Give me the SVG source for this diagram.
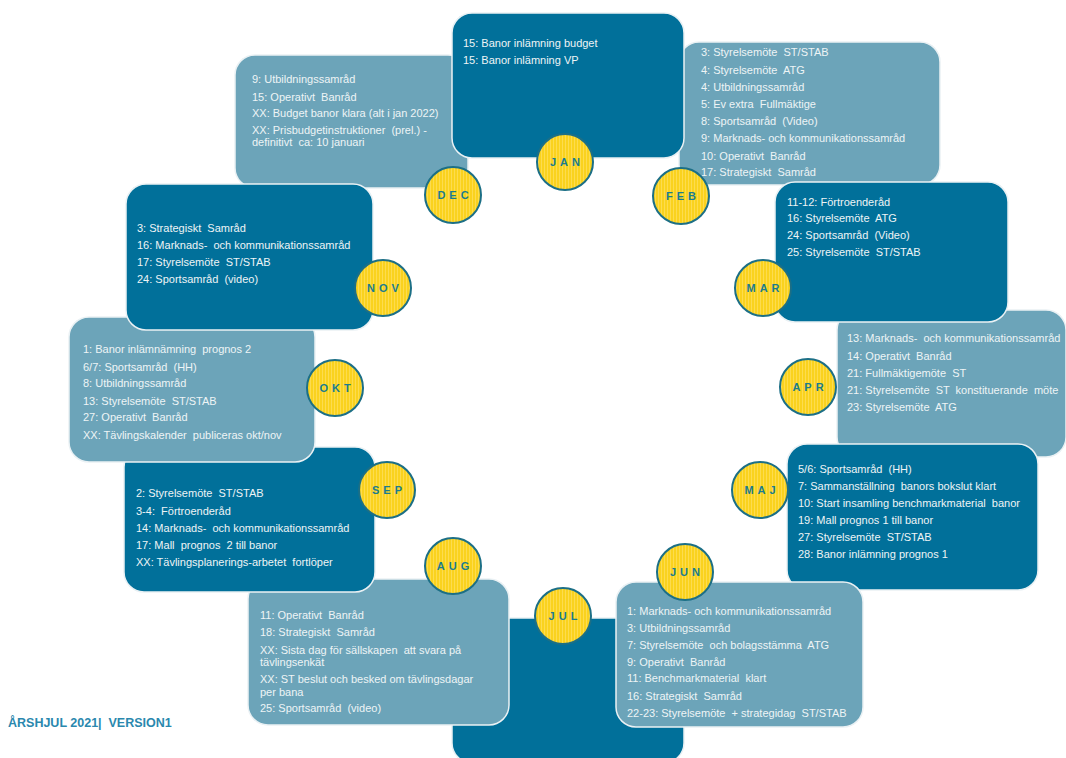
<svg xmlns="http://www.w3.org/2000/svg" width="1066" height="758" viewBox="0 0 1066 758" xml:space="preserve">
<defs>
<pattern id="stripes" width="3" height="3" patternUnits="userSpaceOnUse">
<rect width="3" height="3" fill="#FAD21E"/>
<rect x="1" width="1" height="3" fill="#FDDC4E"/>
</pattern>
<style>
.dark{fill:#01709A;stroke:#EAF1F4;stroke-width:1.5}
.light{fill:#6CA4B9;stroke:#EAF1F4;stroke-width:1.5}
.t{font-family:"Liberation Sans",Arial,sans-serif;font-size:11px;fill:#EEF4F6;white-space:pre}
.c{fill:url(#stripes);stroke:#1C6F86;stroke-width:2}
.m{font-family:"Liberation Sans",Arial,sans-serif;font-size:11px;font-weight:bold;fill:#1B7C8E;text-anchor:middle;letter-spacing:4px}
.title{font-family:"Liberation Sans",Arial,sans-serif;font-size:12.5px;font-weight:bold;fill:#2A88AE;white-space:pre}
</style>
</defs>
<rect width="1066" height="758" fill="#FFFFFF"/>
<g id="connectors"/>

<g id="dec">
<rect class="light" x="235" y="55" width="233" height="133" rx="20"/>
<text class="t" x="252" y="83">9: Utbildningssamråd</text>
<text class="t" x="252" y="101">15: Operativt  Banråd</text>
<text class="t" x="252" y="117">XX: Budget banor klara (alt i jan 2022)</text>
<text class="t" x="252" y="134">XX: Prisbudgetinstruktioner  (prel.) -</text>
<text class="t" x="252" y="146">definitivt  ca: 10 januari</text>
</g>

<g id="feb">
<rect class="light" x="679" y="42" width="261" height="143" rx="20"/>
<text class="t" x="701" y="56">3: Styrelsemöte  ST/STAB</text>
<text class="t" x="701" y="74">4: Styrelsemöte  ATG</text>
<text class="t" x="701" y="91">4: Utbildningssamråd</text>
<text class="t" x="701" y="108">5: Ev extra  Fullmäktige</text>
<text class="t" x="701" y="125">8: Sportsamråd  (Video)</text>
<text class="t" x="701" y="142">9: Marknads- och kommunikationssamråd</text>
<text class="t" x="701" y="160">10: Operativt  Banråd</text>
<text class="t" x="701" y="176">17: Strategiskt  Samråd</text>
</g>

<g id="jan">
<rect class="dark" x="452" y="13" width="232" height="145" rx="20"/>
<text class="t" x="463" y="47">15: Banor inlämning budget</text>
<text class="t" x="463" y="64">15: Banor inlämning VP</text>
</g>

<g id="apr">
<rect class="light" x="837" y="310" width="229" height="147" rx="20"/>
<text class="t" x="847" y="342">13: Marknads-  och kommunikationssamråd</text>
<text class="t" x="847" y="360">14: Operativt  Banråd</text>
<text class="t" x="847" y="377">21: Fullmäktigemöte  ST</text>
<text class="t" x="847" y="394">21: Styrelsemöte  ST  konstituerande  möte</text>
<text class="t" x="847" y="411">23: Styrelsemöte  ATG</text>
</g>

<g id="mar">
<rect class="dark" x="775" y="182" width="233" height="140" rx="20"/>
<text class="t" x="787" y="206">11-12: Förtroenderåd</text>
<text class="t" x="787" y="222">16: Styrelsemöte  ATG</text>
<text class="t" x="787" y="239">24: Sportsamråd  (Video)</text>
<text class="t" x="787" y="256">25: Styrelsemöte  ST/STAB</text>
</g>

<g id="maj">
<rect class="dark" x="787" y="444" width="251" height="146" rx="20"/>
<text class="t" x="798" y="473">5/6: Sportsamråd  (HH)</text>
<text class="t" x="798" y="490">7: Sammanställning  banors bokslut klart</text>
<text class="t" x="798" y="507">10: Start insamling benchmarkmaterial  banor</text>
<text class="t" x="798" y="524">19: Mall prognos 1 till banor</text>
<text class="t" x="798" y="541">27: Styrelsemöte  ST/STAB</text>
<text class="t" x="798" y="558">28: Banor inlämning prognos 1</text>
</g>

<g id="jul">
<rect class="dark" x="452" y="618" width="232" height="145" rx="20"/>
</g>

<g id="jun">
<rect class="light" x="616" y="582" width="247" height="145" rx="20"/>
<text class="t" x="627" y="615">1: Marknads- och kommunikationssamråd</text>
<text class="t" x="627" y="632">3: Utbildningssamråd</text>
<text class="t" x="627" y="649">7: Styrelsemöte  och bolagsstämma  ATG</text>
<text class="t" x="627" y="666">9: Operativt  Banråd</text>
<text class="t" x="627" y="682">11: Benchmarkmaterial  klart</text>
<text class="t" x="627" y="700">16: Strategiskt  Samråd</text>
<text class="t" x="627" y="717">22-23: Styrelsemöte  + strategidag  ST/STAB</text>
</g>

<g id="aug">
<rect class="light" x="248" y="579" width="261" height="146" rx="20"/>
<text class="t" x="260" y="619">11: Operativt  Banråd</text>
<text class="t" x="260" y="636">18: Strategiskt  Samråd</text>
<text class="t" x="260" y="654">XX: Sista dag för sällskapen  att svara på</text>
<text class="t" x="260" y="666">tävlingsenkät</text>
<text class="t" x="260" y="683">XX: ST beslut och besked om tävlingsdagar</text>
<text class="t" x="260" y="696">per bana</text>
<text class="t" x="260" y="712">25: Sportsamråd  (video)</text>
</g>

<g id="sep">
<rect class="dark" x="124" y="447" width="251" height="145" rx="20"/>
<text class="t" x="136" y="497">2: Styrelsemöte  ST/STAB</text>
<text class="t" x="136" y="515">3-4:  Förtroenderåd</text>
<text class="t" x="136" y="532">14: Marknads-  och kommunikationssamråd</text>
<text class="t" x="136" y="549">17: Mall  prognos  2 till banor</text>
<text class="t" x="136" y="566">XX: Tävlingsplanerings-arbetet  fortlöper</text>
</g>

<g id="okt">
<rect class="light" x="69" y="317" width="246" height="145" rx="20"/>
<text class="t" x="83" y="353">1: Banor inlämnämning  prognos 2</text>
<text class="t" x="83" y="371">6/7: Sportsamråd  (HH)</text>
<text class="t" x="83" y="387">8: Utbildningssamråd</text>
<text class="t" x="83" y="405">13: Styrelsemöte  ST/STAB</text>
<text class="t" x="83" y="421">27: Operativt  Banråd</text>
<text class="t" x="83" y="439">XX: Tävlingskalender  publiceras okt/nov</text>
</g>

<g id="nov">
<rect class="dark" x="126" y="184" width="247" height="146" rx="20"/>
<text class="t" x="137" y="232">3: Strategiskt  Samråd</text>
<text class="t" x="137" y="249">16: Marknads-  och kommunikationssamråd</text>
<text class="t" x="137" y="266">17: Styrelsemöte  ST/STAB</text>
<text class="t" x="137" y="283">24: Sportsamråd  (video)</text>
</g>

<g id="months">
<g id="c-jan"><circle class="c" cx="565" cy="162" r="28"/><text class="m" x="567" y="166">JAN</text></g>
<g id="c-feb"><circle class="c" cx="681" cy="196" r="28"/><text class="m" x="683" y="200">FEB</text></g>
<g id="c-mar"><circle class="c" cx="763" cy="288" r="28"/><text class="m" x="765" y="292">MAR</text></g>
<g id="c-apr"><circle class="c" cx="808" cy="387" r="28"/><text class="m" x="810" y="391">APR</text></g>
<g id="c-maj"><circle class="c" cx="760" cy="490" r="28"/><text class="m" x="762" y="494">MAJ</text></g>
<g id="c-jun"><circle class="c" cx="685" cy="572" r="28"/><text class="m" x="687" y="576">JUN</text></g>
<g id="c-jul"><circle class="c" cx="563" cy="616" r="28"/><text class="m" x="565" y="620">JUL</text></g>
<g id="c-aug"><circle class="c" cx="453" cy="566" r="28"/><text class="m" x="455" y="570">AUG</text></g>
<g id="c-sep"><circle class="c" cx="387" cy="490" r="28"/><text class="m" x="389" y="494">SEP</text></g>
<g id="c-okt"><circle class="c" cx="335" cy="388" r="28"/><text class="m" x="337" y="392">OKT</text></g>
<g id="c-nov"><circle class="c" cx="383" cy="288" r="28"/><text class="m" x="385" y="292">NOV</text></g>
<g id="c-dec"><circle class="c" cx="453" cy="195" r="28"/><text class="m" x="455" y="199">DEC</text></g>
</g>

<text class="title" x="8" y="727">ÅRSHJUL 2021|  VERSION1</text>
</svg>
